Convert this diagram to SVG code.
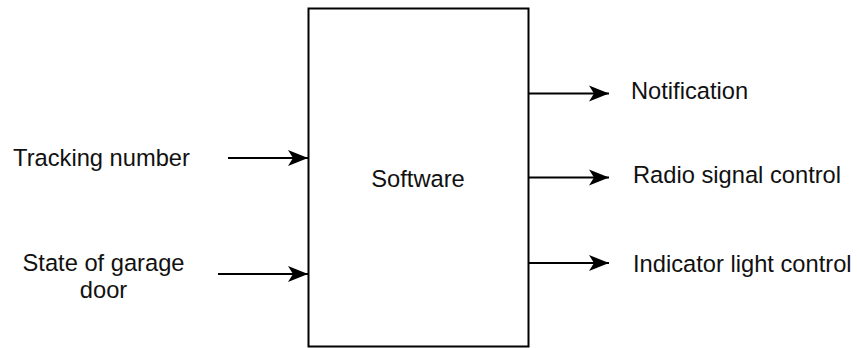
<svg xmlns="http://www.w3.org/2000/svg" width="859" height="348" viewBox="0 0 859 348">
<style>
.lbl{font-family:"Liberation Sans",Arial,sans-serif;font-size:23.7px;fill:#111}
.edge{stroke:#000;stroke-width:2;fill:none}
</style>
<defs>
<marker id="ah" markerUnits="userSpaceOnUse" markerWidth="22" markerHeight="18" refX="20" refY="9" orient="auto">
<path d="M0,1 L20,9 L0,17 L5,9 Z" fill="#000"/>
</marker>
</defs>
<rect width="859" height="348" fill="#fff"/>
<g id="software">
<rect x="308.5" y="8.5" width="220" height="338" fill="#fff" stroke="#000" stroke-width="2"/>
<text class="lbl" x="418" y="187" text-anchor="middle">Software</text>
</g>
<g id="tracking">
<text class="lbl" x="101.5" y="166" text-anchor="middle">Tracking number</text>
</g>
<g id="garage">
<text class="lbl" x="103.5" y="271" text-anchor="middle">State of garage</text>
<text class="lbl" x="103.5" y="298" text-anchor="middle">door</text>
</g>
<g id="notification">
<text class="lbl" x="631" y="99">Notification</text>
</g>
<g id="radio">
<text class="lbl" x="633" y="183">Radio signal control</text>
</g>
<g id="indicator">
<text class="lbl" x="633" y="271.5">Indicator light control</text>
</g>
<g id="connectors">
<line class="edge" x1="228" y1="158" x2="308" y2="158" marker-end="url(#ah)"/>
<line class="edge" x1="218" y1="274" x2="308" y2="274" marker-end="url(#ah)"/>
<line class="edge" x1="529" y1="93.5" x2="609" y2="93.5" marker-end="url(#ah)"/>
<line class="edge" x1="529" y1="177.5" x2="609" y2="177.5" marker-end="url(#ah)"/>
<line class="edge" x1="529" y1="263" x2="609" y2="263" marker-end="url(#ah)"/>
</g>
</svg>
